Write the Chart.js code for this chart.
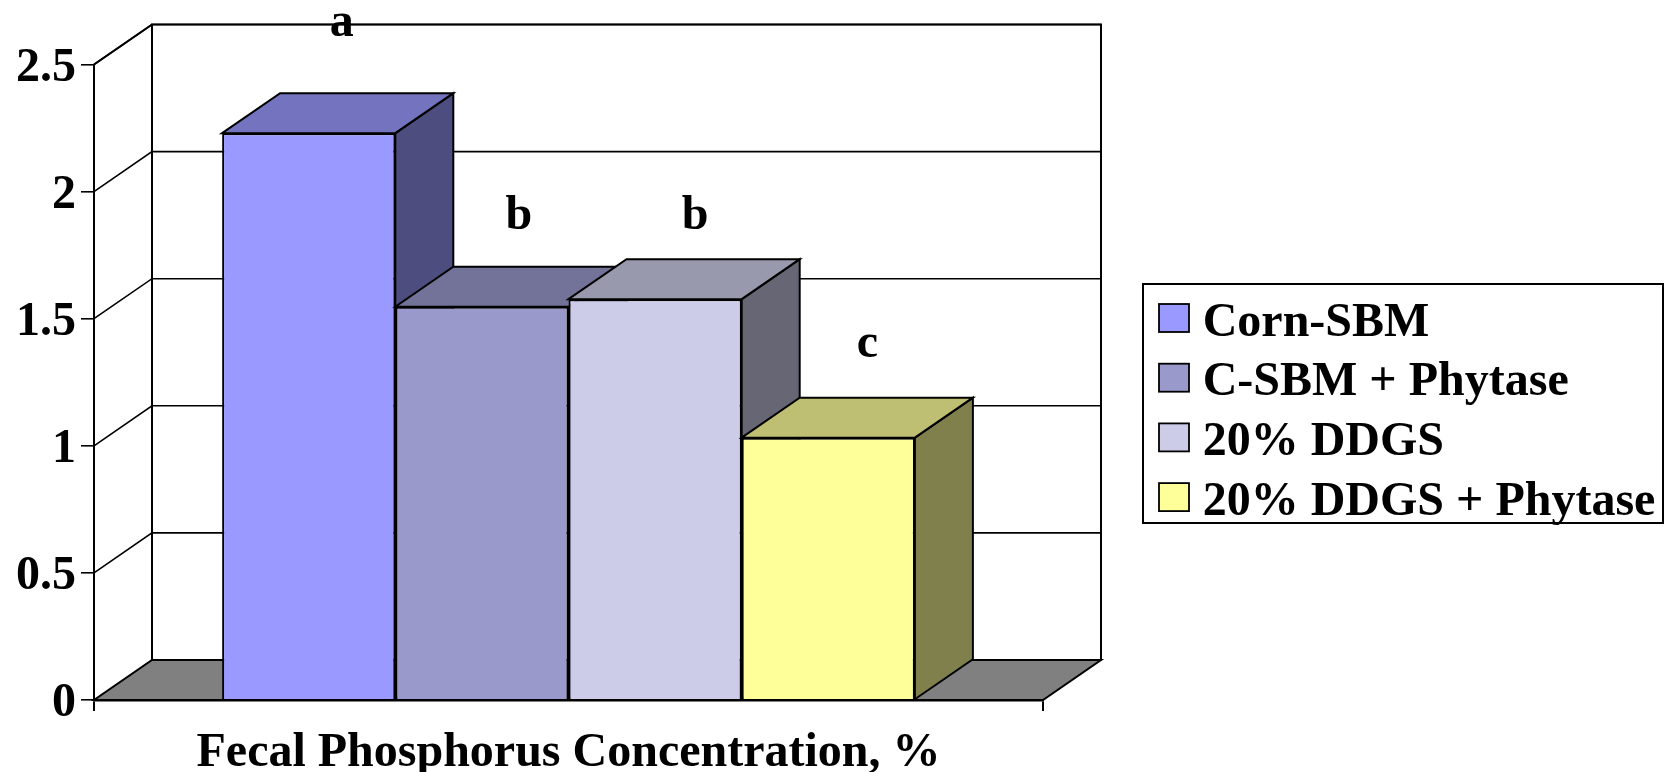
<!DOCTYPE html>
<html>
<head>
<meta charset="utf-8">
<title>Fecal Phosphorus Concentration</title>
<script src="https://cdn.jsdelivr.net/npm/chart.js@4"></script>
<style>
  html, body { margin: 0; background: #fff; }
  canvas { display: block; }
</style>
</head>
<body>
<canvas id="fecalChart" width="1667" height="772"></canvas>
<script>
// values
const categories = [''];
const seriesNames = ['Corn-SBM', 'C-SBM + Phytase', '20% DDGS', '20% DDGS + Phytase'];
const cornSbm = [2.23];
const cSbmPhytase = [1.547];
const ddgs = [1.577];
const ddgsPhytase = [1.032];
const seriesValues = [cornSbm, cSbmPhytase, ddgs, ddgsPhytase];
const sigLetters = ['a', 'b', 'b', 'c'];
const yTickLabels = ['0', '0.5', '1', '1.5', '2', '2.5'];
const axisTitle = 'Fecal Phosphorus Concentration, %';

const frontColors = ['#9999FF', '#9999CC', '#CCCCE8', '#FFFF99'];
const topColors = ['#7373BF', '#737399', '#9999AE', '#BFBF73'];
const sideColors = ['#4D4D80', '#4D4D66', '#666674', '#80804D'];

const FONT = '"Liberation Serif", serif';
const DEPTH_X = 58;
const DEPTH_Y = -40;

// the letters were placed by hand over each bar, offset from its top centre
const letterOffsets = [[33, -97], [37, -78], [40, -70], [39, -81]];

function poly(ctx, pts, fill, width) {
  ctx.beginPath();
  pts.forEach((p, i) => (i ? ctx.lineTo(p[0], p[1]) : ctx.moveTo(p[0], p[1])));
  ctx.closePath();
  if (fill) {
    ctx.fillStyle = fill;
    ctx.fill();
  }
  ctx.lineWidth = width;
  ctx.strokeStyle = '#000';
  ctx.stroke();
}

const box3d = {
  id: 'box3d',
  afterLayout(chart) {
    // legend sits outside the plot, in its own frame
    const lg = chart.legend;
    lg.left = 1146;
    lg.right = 1666;
    lg.width = 520;
    lg.top = 287.5;
    lg.bottom = 600;
    lg.height = 312.5;
  },
  beforeDatasetsDraw(chart) {
    const { ctx, chartArea: a, scales } = chart;
    const backL = a.left + DEPTH_X;
    const backR = a.right + DEPTH_X;
    const backT = a.top + DEPTH_Y;
    const backB = a.bottom + DEPTH_Y;

    // floor and walls
    poly(ctx, [[a.left, a.bottom], [a.right, a.bottom], [backR, backB], [backL, backB]], '#808080', 2);
    ctx.lineWidth = 2;
    ctx.strokeStyle = '#000';
    ctx.strokeRect(backL, backT, backR - backL, backB - backT);

    // grid lines run along the side wall then across the back
    ctx.lineWidth = 1.6;
    scales.y.ticks.forEach((t) => {
      const y = scales.y.getPixelForValue(t.value);
      if (t.value === 0) return;
      ctx.beginPath();
      ctx.moveTo(a.left, y);
      ctx.lineTo(backL, y + DEPTH_Y);
      ctx.lineTo(backR, y + DEPTH_Y);
      ctx.stroke();
    });
    ctx.beginPath();
    ctx.moveTo(a.left, a.top);
    ctx.lineTo(backL, backT);
    ctx.lineWidth = 2;
    ctx.stroke();

    // left to right so later bars cover the sides of earlier ones
    seriesValues.forEach((_, i) => {
      const el = chart.getDatasetMeta(i).data[0];
      const l = el.x - el.width / 2;
      const r = el.x + el.width / 2;
      poly(ctx, [[r, el.y], [r + DEPTH_X, el.y + DEPTH_Y], [r + DEPTH_X, el.base + DEPTH_Y], [r, el.base]], sideColors[i], 2);
      poly(ctx, [[l, el.y], [l + DEPTH_X, el.y + DEPTH_Y], [r + DEPTH_X, el.y + DEPTH_Y], [r, el.y]], topColors[i], 2);
      el.draw(ctx);
    });

    ctx.fillStyle = '#000';
    ctx.font = 'bold 48px ' + FONT;
    ctx.textAlign = 'center';
    ctx.textBaseline = 'alphabetic';
    sigLetters.forEach((s, i) => {
      const el = chart.getDatasetMeta(i).data[0];
      ctx.fillText(s, el.x + letterOffsets[i][0], el.y + letterOffsets[i][1]);
    });
    return false;
  },
  afterDraw(chart) {
    const { ctx, legend } = chart;
    ctx.save();
    ctx.lineWidth = 2;
    ctx.strokeStyle = '#000';
    ctx.strokeRect(1143, 284, 520, 239);
    // swatches are wider than the legend's own text gap allows
    legend.legendItems.forEach((item, i) => {
      ctx.fillStyle = frontColors[item.datasetIndex];
      ctx.lineWidth = 1.8;
      ctx.fillRect(1159, 304 + i * 59.7, 30, 28);
      ctx.strokeRect(1159, 304 + i * 59.7, 30, 28);
    });
    ctx.restore();
  }
};

new Chart(document.getElementById('fecalChart'), {
  type: 'bar',
  data: {
    labels: categories,
    datasets: seriesNames.map((name, i) => ({
      label: name,
      data: seriesValues[i],
      backgroundColor: frontColors[i],
      borderColor: '#000',
      borderWidth: 2
    }))
  },
  plugins: [box3d],
  options: {
    responsive: false,
    animation: false,
    events: [],
    barPercentage: 1,
    categoryPercentage: 0.73,
    layout: { padding: { left: 0, top: 64.5, right: 624, bottom: 0 } },
    plugins: {
      tooltip: { enabled: false },
      legend: {
        position: 'chartArea',
        align: 'start',
        labels: {
          color: '#000',
          font: { family: FONT, size: 48, weight: 'bold' },
          boxWidth: 21,
          boxHeight: 28,
          padding: 11.7,
          generateLabels: (chart) => chart.data.datasets.map((d, i) => ({
            text: d.label,
            fillStyle: 'rgba(0,0,0,0)',
            strokeStyle: 'rgba(0,0,0,0)',
            lineWidth: 0,
            datasetIndex: i
          }))
        }
      }
    },
    scales: {
      x: {
        afterFit: (scale) => { scale.height = 72; },
        grid: { offset: true, drawOnChartArea: false, tickLength: 11, color: '#000', lineWidth: 2 },
        border: { color: '#000', width: 2.4, z: 1 },
        ticks: { display: false },
        title: {
          display: true,
          text: axisTitle,
          color: '#000',
          font: { family: FONT, size: 48, weight: 'bold' },
          padding: { top: 0, bottom: -10 }
        }
      },
      y: {
        min: 0,
        max: 2.5,
        afterFit: (scale) => { scale.width = 94; },
        grid: { drawOnChartArea: false, tickLength: 13, color: '#000', lineWidth: 1.6 },
        border: { color: '#000', width: 2, z: 1 },
        ticks: {
          stepSize: 0.5,
          padding: 5,
          labelOffset: 4,
          color: '#000',
          font: { family: FONT, size: 48, weight: 'bold' },
          callback: (v, i) => yTickLabels[i]
        }
      }
    }
  }
});
</script>
</body>
</html>
